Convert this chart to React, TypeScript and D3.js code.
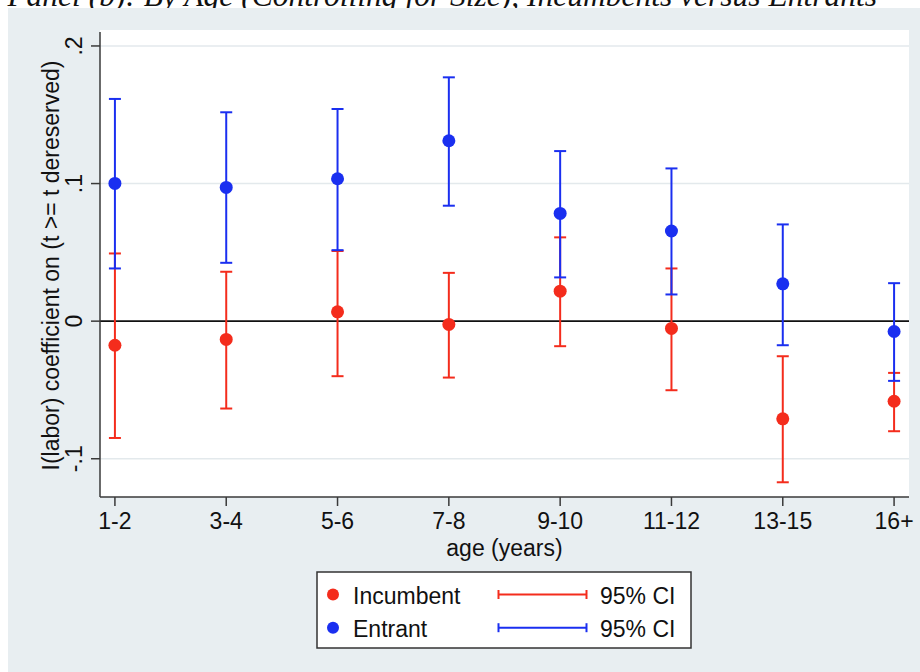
import * as d3 from 'd3'

// age groups on the x axis
const ages = ['1-2', '3-4', '5-6', '7-8', '9-10', '11-12', '13-15', '16+']

// Incumbent coefficients and 95% CI bounds
const incumbentCoef = [-0.0175, -0.0133, 0.0068, -0.0024, 0.0218, -0.0053, -0.071, -0.0582]
const incumbentLow = [-0.0849, -0.0635, -0.04, -0.041, -0.0182, -0.0502, -0.1171, -0.08]
const incumbentHigh = [0.0492, 0.0359, 0.051, 0.0351, 0.0609, 0.0383, -0.0255, -0.0376]

// Entrant coefficients and 95% CI bounds
const entrantCoef = [0.1001, 0.0972, 0.1035, 0.1311, 0.0783, 0.0655, 0.0271, -0.0075]
const entrantLow = [0.0383, 0.0424, 0.0516, 0.0839, 0.0318, 0.0194, -0.0175, -0.0434]
const entrantHigh = [0.1615, 0.1518, 0.1542, 0.1772, 0.1236, 0.111, 0.0703, 0.0276]

const yTicks = [-0.1, 0, 0.1, 0.2]
const yTickLabels = ['-.1', '0', '.1', '.2']

const legendItems = [
  { label: 'Incumbent', color: '#f42c1c' },
  { label: 'Entrant', color: '#1a2ff0' }
]

const RED = '#f42c1c'
const BLUE = '#1a2ff0'
const FONT = 'Liberation Sans, Arial, Helvetica, sans-serif'

const width = 920
const height = 672
const plot = { left: 100, right: 909, top: 30, bottom: 497 }

export default function App() {
  const x = d3.scalePoint<string>()
    .domain(ages)
    .range([plot.left, plot.right])
    .padding(0.134)

  const y = d3.scaleLinear()
    .domain([-0.1278, 0.2116])
    .range([plot.bottom, plot.top])

  const capHalf = 6

  const series = [
    { name: 'Incumbent', color: RED, coef: incumbentCoef, low: incumbentLow, high: incumbentHigh },
    { name: 'Entrant', color: BLUE, coef: entrantCoef, low: entrantLow, high: entrantHigh }
  ]

  return (
    <div style={{ position: 'absolute', left: 0, top: 0 }}>
      <svg width={width} height={height} style={{ display: 'block' }}>
        <rect x={0} y={0} width={width} height={height} fill="#ffffff" />
        {/* panel caption, cut off at the top */}
        <text
          x={877}
          y={5.5}
          textAnchor="end"
          style={{ fontFamily: 'Liberation Serif, Times New Roman, serif', fontStyle: 'italic', fontSize: 31.5, fill: '#111' }}
        >
          Panel (b): By Age (Controlling for Size), Incumbents versus Entrants
        </text>

        {/* graph region */}
        <rect x={8} y={8} width={width - 8} height={height - 8} fill="#e8eef1" />
        {/* plot region */}
        <rect x={plot.left} y={plot.top} width={plot.right - plot.left} height={plot.bottom - plot.top} fill="#ffffff" />

        {/* gridlines */}
        {yTicks.filter(t => t !== 0).map(t => (
          <line key={'g' + t} x1={plot.left} x2={plot.right} y1={y(t)} y2={y(t)} stroke="#e3e9ec" strokeWidth={1.5} />
        ))}
        <line x1={plot.left} x2={plot.right} y1={y(0)} y2={y(0)} stroke="#111" strokeWidth={1.8} />

        {/* axes */}
        <line x1={plot.left} x2={plot.left} y1={plot.top + 2} y2={plot.bottom} stroke="#3a3a3a" strokeWidth={1.5} />
        <line x1={plot.left} x2={plot.right} y1={plot.bottom} y2={plot.bottom} stroke="#3a3a3a" strokeWidth={1.5} />

        {yTicks.map((t, i) => (
          <g key={'yt' + t}>
            <line x1={plot.left - 9} x2={plot.left} y1={y(t)} y2={y(t)} stroke="#3a3a3a" strokeWidth={1.5} />
            <text
              transform={`translate(82,${y(t)}) rotate(-90)`}
              textAnchor="middle"
              style={{ fontFamily: FONT, fontSize: 23, fill: '#111' }}
            >
              {yTickLabels[i]}
            </text>
          </g>
        ))}

        {ages.map(a => (
          <g key={'xt' + a}>
            <line x1={x(a)} x2={x(a)} y1={plot.bottom} y2={plot.bottom + 9} stroke="#3a3a3a" strokeWidth={1.5} />
            <text x={x(a)} y={529} textAnchor="middle" style={{ fontFamily: FONT, fontSize: 23, fill: '#111' }}>
              {a}
            </text>
          </g>
        ))}

        <text
          x={(plot.left + plot.right) / 2}
          y={556}
          textAnchor="middle"
          style={{ fontFamily: FONT, fontSize: 23, fill: '#111' }}
        >
          age (years)
        </text>
        <text
          transform={`translate(58.5,${(plot.top + plot.bottom) / 2 + 2}) rotate(-90)`}
          textAnchor="middle"
          style={{ fontFamily: FONT, fontSize: 23, fill: '#111' }}
        >
          I(labor) coefficient on (t &gt;= t dereserved)
        </text>

        {/* confidence intervals and point estimates */}
        {series.map(s => (
          <g key={s.name}>
            {ages.map((a, i) => (
              <g key={a} stroke={s.color} strokeWidth={2}>
                <line x1={x(a)} x2={x(a)} y1={y(s.low[i])} y2={y(s.high[i])} />
                <line x1={x(a)! - capHalf} x2={x(a)! + capHalf} y1={y(s.low[i])} y2={y(s.low[i])} />
                <line x1={x(a)! - capHalf} x2={x(a)! + capHalf} y1={y(s.high[i])} y2={y(s.high[i])} />
              </g>
            ))}
            {ages.map((a, i) => (
              <circle key={'c' + a} cx={x(a)} cy={y(s.coef[i])} r={6.5} fill={s.color} />
            ))}
          </g>
        ))}

        {/* legend */}
        <rect x={317} y={572} width={374} height={76} fill="#ffffff" stroke="#333" strokeWidth={1.5} />
        {legendItems.map((item, i) => {
          const cy = 594.5 + i * 33.2
          return (
            <g key={item.label}>
              <circle cx={333} cy={cy} r={6} fill={item.color} />
              <text x={353} y={cy + 9.5} style={{ fontFamily: FONT, fontSize: 23, fill: '#111' }}>
                {item.label}
              </text>
              <g stroke={item.color} strokeWidth={2}>
                <line x1={498.5} x2={586.5} y1={cy} y2={cy} />
                <line x1={498.5} x2={498.5} y1={cy - 4.5} y2={cy + 4.5} />
                <line x1={586.5} x2={586.5} y1={cy - 4.5} y2={cy + 4.5} />
              </g>
              <text x={600} y={cy + 9.5} style={{ fontFamily: FONT, fontSize: 23, fill: '#111' }}>
                95% CI
              </text>
            </g>
          )
        })}
      </svg>
    </div>
  )
}
